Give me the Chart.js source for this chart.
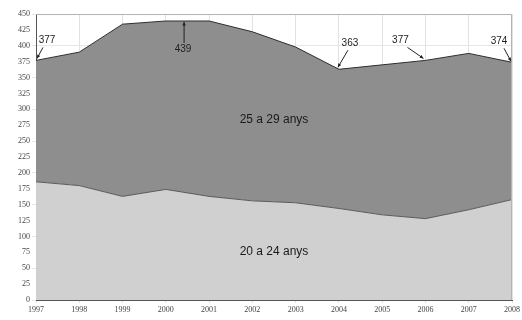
<!DOCTYPE html>
<html><head><meta charset="utf-8">
<script src="https://cdn.jsdelivr.net/npm/chart.js@4"></script>
<style>html,body{margin:0;padding:0;background:#fff}#w{width:522px;height:320px}</style>
</head><body><div id="w"><canvas id="c"></canvas></div>
<script>
const years = ['1997','1998','1999','2000','2001','2002','2003','2004','2005','2006','2007','2008'];
const age20to24 = [186,180,163,174,163,156,153,144,134,128,142,158];
const age25to29 = [191,210,271,265,276,266,245,219,236,249,246,216];
const totalLabels = [
  {i:0, text:'377'},
  {i:4, text:'439'},
  {i:7, text:'363'},
  {i:9, text:'377'},
  {i:11, text:'374'}
];
const seriesNames = ['20 a 24 anys','25 a 29 anys'];

function arrow(ctx,x1,y1,x2,y2){
  ctx.beginPath();ctx.moveTo(x1,y1);ctx.lineTo(x2,y2);ctx.stroke();
  const a=Math.atan2(y2-y1,x2-x1),L=4;
  ctx.beginPath();ctx.moveTo(x2,y2);
  ctx.lineTo(x2-L*Math.cos(a-0.45),y2-L*Math.sin(a-0.45));
  ctx.lineTo(x2-L*Math.cos(a+0.45),y2-L*Math.sin(a+0.45));
  ctx.closePath();ctx.fill();
}
const annot = {
  id:'annot',
  afterDatasetsDraw(chart){
    const ctx=chart.ctx, meta=chart.getDatasetMeta(1), ca=chart.chartArea;
    ctx.save();
    ctx.strokeStyle='#b4b4b4';ctx.lineWidth=1;
    ctx.beginPath();ctx.moveTo(ca.left,ca.top+0.5);ctx.lineTo(ca.right-0.5,ca.top+0.5);ctx.lineTo(ca.right-0.5,ca.bottom);ctx.stroke();
    ctx.fillStyle='#222';ctx.strokeStyle='#222';ctx.lineWidth=1;
    ctx.font='10px "Liberation Sans", Arial, sans-serif';
    ctx.textAlign='center';ctx.textBaseline='middle';
    const offs={0:[11,-20,7,-13,1,-2],4:[-26,28,-25,22,-25,1],7:[11,-26,9,-19,-1,-2],9:[-25,-20,-18,-13,-2,-2],11:[-13,-21,-8,-14,-1,-1]};
    totalLabels.forEach(l=>{
      const p=meta.data[l.i], o=offs[l.i];
      ctx.fillText(l.text,p.x+o[0],p.y+o[1]);
      arrow(ctx,p.x+o[2],p.y+o[3],p.x+o[4],p.y+o[5]);
    });
    ctx.font='12px "Liberation Sans", Arial, sans-serif';
    ctx.fillStyle='#1a1a1a';
    const xs=chart.scales.x, ys=chart.scales.y;
    const mx=(xs.getPixelForValue(5)+xs.getPixelForValue(6))/2;
    ctx.fillText(seriesNames[1],mx,ys.getPixelForValue(283));
    ctx.fillText(seriesNames[0],mx,ys.getPixelForValue(76));
    ctx.restore();
  }
};
new Chart(document.getElementById('c'),{
  type:'line',
  data:{labels:years,datasets:[
    {label:seriesNames[0],data:age20to24,fill:'origin',backgroundColor:'#d0d0d0',borderColor:'#5a5a5a',borderWidth:1,pointRadius:0,tension:0},
    {label:seriesNames[1],data:age25to29,fill:'-1',backgroundColor:'#8e8e8e',borderColor:'#2e2e2e',borderWidth:1,pointRadius:0,tension:0}
  ]},
  options:{
    responsive:true,maintainAspectRatio:false,animation:false,
    layout:{padding:{top:14,right:8,left:0,bottom:0}},
    plugins:{legend:{display:false},tooltip:{enabled:false}},
    scales:{
      x:{offset:false,grid:{color:'#e2e2e2',drawTicks:true,tickLength:3},border:{color:'#555',width:1},
         ticks:{font:{size:8,family:'"Liberation Serif", serif'},color:'#444',maxRotation:0,autoSkip:false,padding:2},
         afterFit(s){s.height=20;}},
      y:{stacked:true,min:0,max:450,grid:{color:c=>c.tick&&c.tick.value%50===0?'#e6e6e6':'rgba(0,0,0,0)',tickLength:4},border:{color:'#555',width:1},
         ticks:{stepSize:25,font:{size:8,family:'"Liberation Serif", serif'},color:'#444',padding:2},
         afterFit(s){s.width=36;}}
    }
  },
  plugins:[annot]
});
</script></body></html>
